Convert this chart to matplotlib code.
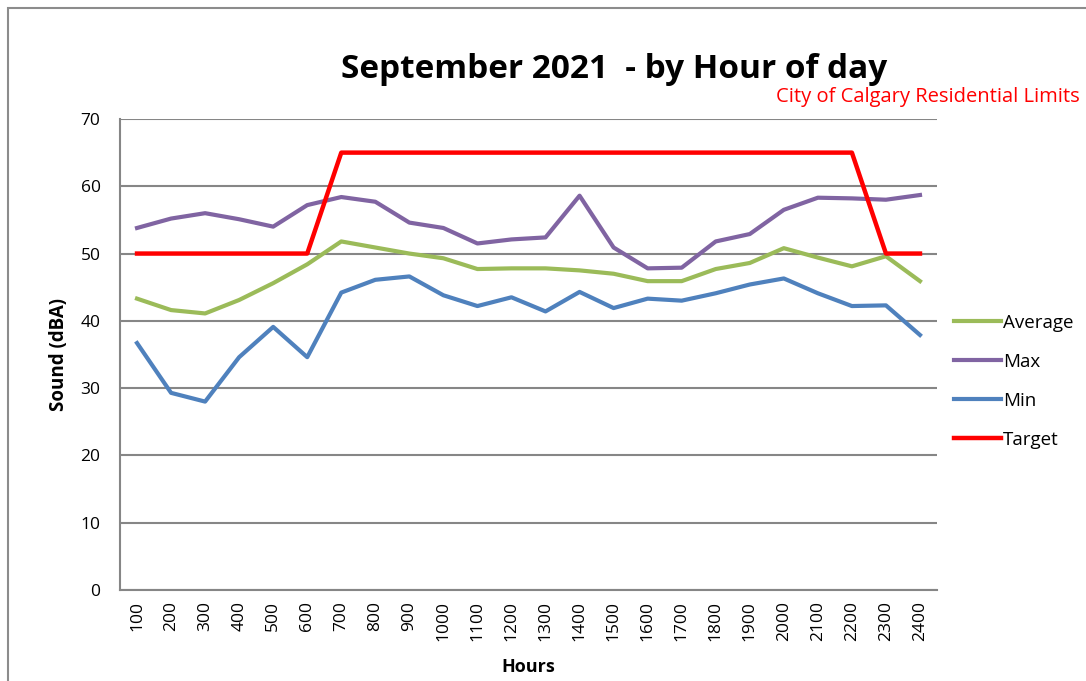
import matplotlib.pyplot as plt
from matplotlib.patches import Rectangle
import numpy as np

hours = ['100', '200', '300', '400', '500', '600', '700', '800', '900', '1000',
         '1100', '1200', '1300', '1400', '1500', '1600', '1700', '1800', '1900',
         '2000', '2100', '2200', '2300', '2400']

average = [43.3, 41.6, 41.1, 43.1, 45.6, 48.4, 51.8, 50.9, 50.0, 49.3, 47.7, 47.8,
           47.8, 47.5, 47.0, 45.9, 45.9, 47.7, 48.6, 50.8, 49.4, 48.1, 49.6, 45.9]
maximum = [53.8, 55.2, 56.0, 55.1, 54.0, 57.2, 58.4, 57.7, 54.6, 53.8, 51.5, 52.1,
           52.4, 58.6, 50.9, 47.8, 47.9, 51.8, 52.9, 56.5, 58.3, 58.2, 58.0, 58.7]
minimum = [36.7, 29.3, 28.0, 34.6, 39.1, 34.6, 44.2, 46.1, 46.6, 43.8, 42.2, 43.5,
           41.4, 44.3, 41.9, 43.3, 43.0, 44.1, 45.4, 46.3, 44.1, 42.2, 42.3, 37.9]
target = [50, 50, 50, 50, 50, 50, 65, 65, 65, 65, 65, 65,
          65, 65, 65, 65, 65, 65, 65, 65, 65, 65, 50, 50]

plt.rcParams['font.family'] = ['Open Sans', 'DejaVu Sans']

fig = plt.figure(figsize=(10.86, 6.81), dpi=100)
ax = fig.add_axes([0.1105, 0.1336, 0.7523, 0.6917])

# outer chart border (cut off at right and bottom like the screenshot)
fig.patches.append(Rectangle((8 / 1086, -0.05), 1.2, 1 - 8 / 681 + 0.05,
                             transform=fig.transFigure, fill=False,
                             edgecolor='#8c8c8c', linewidth=1.5))

x = np.arange(len(hours))
ax.plot(x, average, color='#9BBB59', linewidth=3, label='Average')
ax.plot(x, maximum, color='#8064A2', linewidth=3, label='Max')
ax.plot(x, minimum, color='#4F81BD', linewidth=3, label='Min')
ax.plot(x, target, color='#FF0000', linewidth=3.2, label='Target')

ax.set_xlim(-0.5, len(hours) - 0.5)
ax.set_ylim(0, 70)
ax.set_yticks(np.arange(0, 71, 10))
ax.set_xticks(x)
ax.set_xticklabels(hours, rotation=90, fontsize=12.5)
ax.tick_params(axis='y', labelsize=12.5, length=0, pad=14)
ax.tick_params(axis='x', length=0, pad=8)
ax.grid(axis='y', color='#868686', linewidth=1.5)
ax.set_axisbelow(True)
for s in ['top', 'right']:
    ax.spines[s].set_visible(False)
for s in ['left', 'bottom']:
    ax.spines[s].set_color('#868686')
    ax.spines[s].set_linewidth(1.5)

ax.set_ylabel('Sound (dBA)', fontsize=13.5, fontweight='bold', labelpad=8)
ax.set_xlabel('Hours', fontsize=13, fontweight='bold', labelpad=12)

fig.text(614 / 1086, 1 - 70 / 681, 'September 2021  - by Hour of day',
         ha='center', va='center', fontsize=24, fontweight='bold')
fig.text(1080 / 1086, 1 - 97 / 681, 'City of Calgary Residential Limits',
         ha='right', va='center', fontsize=14.5, color='#FF0000')

ax.legend(loc='center left', bbox_to_anchor=(1.0, 0.443), frameon=False,
          fontsize=13.5, handlelength=2.5, handletextpad=0.1, labelspacing=1.12)

fig.savefig('out.png', dpi=100)
